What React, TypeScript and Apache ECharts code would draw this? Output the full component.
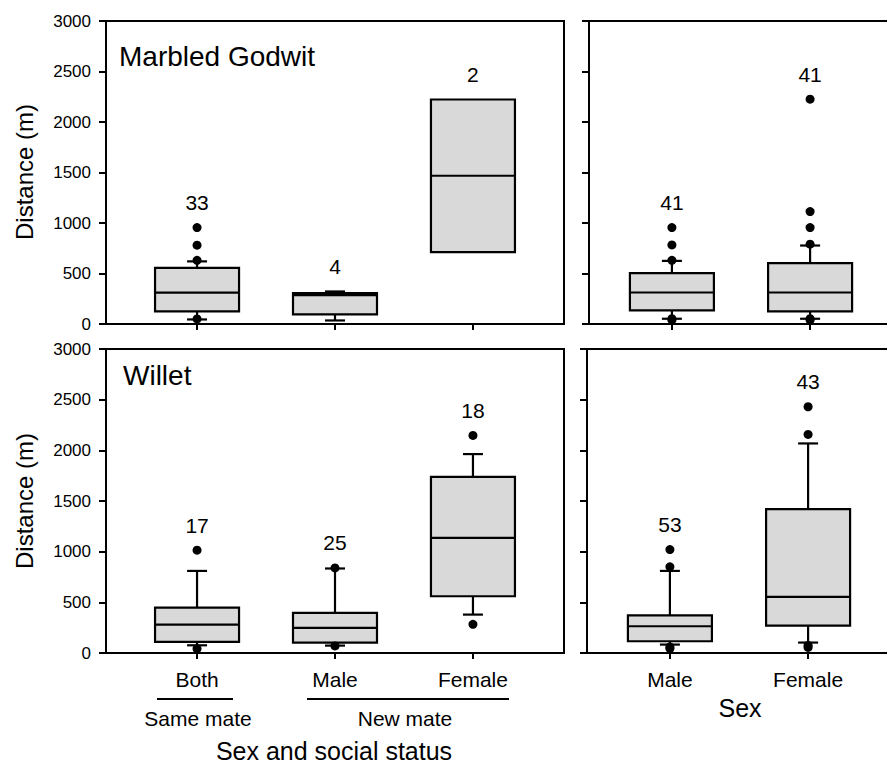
import React, { useEffect, useRef } from "react";
import * as echarts from "echarts";

// ---------- data ----------
const statusCategories = ["Both", "Male", "Female"];
const sexCategories = ["Male", "Female"];
const yTicks = [0, 500, 1000, 1500, 2000, 2500, 3000];

// Marbled Godwit by sex and social status
const godwitStatusMin = [45, 35, 711];
const godwitStatusQ1 = [125, 95, 711];
const godwitStatusMedian = [310, 285, 1468];
const godwitStatusQ3 = [555, 305, 2223];
const godwitStatusMax = [620, 322, 2223];
const godwitStatusN = [33, 4, 2];
const godwitStatusOutliers = [[955, 780, 630, 50], [], []];

// Marbled Godwit by sex
const godwitSexMin = [52, 52];
const godwitSexQ1 = [134, 125];
const godwitSexMedian = [312, 312];
const godwitSexQ3 = [504, 603];
const godwitSexMax = [625, 777];
const godwitSexN = [41, 41];
const godwitSexOutliers = [[955, 783, 630, 52, 40], [2226, 1113, 955, 790, 52, 40]];

// Willet by sex and social status
const willetStatusMin = [76, 73, 379];
const willetStatusQ1 = [109, 103, 560];
const willetStatusMedian = [281, 247, 1136];
const willetStatusQ3 = [448, 395, 1739];
const willetStatusMax = [810, 834, 1963];
const willetStatusN = [17, 25, 18];
const willetStatusOutliers = [[1015, 43], [840, 70], [2147, 283]];

// Willet by sex
const willetSexMin = [83, 103];
const willetSexQ1 = [116, 270];
const willetSexMedian = [264, 553];
const willetSexQ3 = [372, 1420];
const willetSexMax = [810, 2068];
const willetSexN = [53, 43];
const willetSexOutliers = [[1021, 850, 59, 45], [2430, 2157, 76, 55]];

// ---------- styling ----------
const FONT = "'Liberation Sans', Arial, Helvetica, sans-serif";
const BOX_FILL = "#d9d9d9";
const BOX_HALF = 42;
const CAP_HALF = 10;
const LABEL_GAP = 25;

type Panel = {
  cats: string[];
  min: number[];
  q1: number[];
  med: number[];
  q3: number[];
  max: number[];
  n: number[];
  outliers: number[][];
  grid: { left: number; top: number; width: number; height: number };
  xRange: [number, number];
  showX: boolean;
  showY: boolean;
};

const panels: Panel[] = [
  {
    cats: statusCategories, min: godwitStatusMin, q1: godwitStatusQ1, med: godwitStatusMedian,
    q3: godwitStatusQ3, max: godwitStatusMax, n: godwitStatusN, outliers: godwitStatusOutliers,
    grid: { left: 106, top: 21, width: 458, height: 303 }, xRange: [-0.66, 2.66], showX: false, showY: true,
  },
  {
    cats: sexCategories, min: godwitSexMin, q1: godwitSexQ1, med: godwitSexMedian,
    q3: godwitSexQ3, max: godwitSexMax, n: godwitSexN, outliers: godwitSexOutliers,
    grid: { left: 589, top: 21, width: 304, height: 303 }, xRange: [-0.6, 1.6], showX: false, showY: false,
  },
  {
    cats: statusCategories, min: willetStatusMin, q1: willetStatusQ1, med: willetStatusMedian,
    q3: willetStatusQ3, max: willetStatusMax, n: willetStatusN, outliers: willetStatusOutliers,
    grid: { left: 106, top: 349, width: 458, height: 304 }, xRange: [-0.66, 2.66], showX: true, showY: true,
  },
  {
    cats: sexCategories, min: willetSexMin, q1: willetSexQ1, med: willetSexMedian,
    q3: willetSexQ3, max: willetSexMax, n: willetSexN, outliers: willetSexOutliers,
    grid: { left: 587, top: 349, width: 304, height: 304 }, xRange: [-0.6, 1.6], showX: true, showY: false,
  },
];

function renderBox(_params: any, api: any) {
  const x = api.value(0);
  const mn = api.value(1);
  const q1 = api.value(2);
  const md = api.value(3);
  const q3 = api.value(4);
  const mx = api.value(5);
  const n = api.value(6);
  const top = api.value(7);
  const cx = api.coord([x, md])[0];
  const yMin = api.coord([x, mn])[1];
  const yQ1 = api.coord([x, q1])[1];
  const yMed = api.coord([x, md])[1];
  const yQ3 = api.coord([x, q3])[1];
  const yMax = api.coord([x, mx])[1];
  const yTop = api.coord([x, top])[1];
  const stroke = { stroke: "#000", lineWidth: 2.2, fill: "none" };
  const children: any[] = [];
  if (mx > q3) {
    children.push({ type: "line", shape: { x1: cx, y1: yQ3, x2: cx, y2: yMax }, style: stroke });
    children.push({ type: "line", shape: { x1: cx - CAP_HALF, y1: yMax, x2: cx + CAP_HALF, y2: yMax }, style: stroke });
  }
  if (mn < q1) {
    children.push({ type: "line", shape: { x1: cx, y1: yQ1, x2: cx, y2: yMin }, style: stroke });
    children.push({ type: "line", shape: { x1: cx - CAP_HALF, y1: yMin, x2: cx + CAP_HALF, y2: yMin }, style: stroke });
  }
  children.push({
    type: "rect",
    shape: { x: cx - BOX_HALF, y: yQ3, width: BOX_HALF * 2, height: yQ1 - yQ3 },
    style: { fill: BOX_FILL, stroke: "#000", lineWidth: 2.2 },
  });
  children.push({ type: "line", shape: { x1: cx - BOX_HALF, y1: yMed, x2: cx + BOX_HALF, y2: yMed }, style: stroke });
  children.push({
    type: "text",
    x: cx,
    y: yTop - LABEL_GAP,
    style: {
      text: String(n), fontSize: 21, fontFamily: FONT, fill: "#000",
      align: "center", verticalAlign: "middle", textAlign: "center", textVerticalAlign: "middle",
    },
  });
  return { type: "group", children };
}

function textEl(text: string, x: number, y: number, size: number, align = "center", rotation = 0) {
  return {
    type: "text",
    x, y, rotation,
    style: {
      text, fontSize: size, fontFamily: FONT, fill: "#000",
      align, verticalAlign: "middle", textAlign: align, textVerticalAlign: "middle",
    },
  };
}

function buildOption() {
  const grid: any[] = [];
  const xAxis: any[] = [];
  const yAxis: any[] = [];
  const series: any[] = [];
  panels.forEach((p, i) => {
    grid.push({
      ...p.grid, show: true, borderColor: "#000", borderWidth: 2, backgroundColor: "transparent",
      containLabel: false, outerBoundsMode: "none",
    });
    const idx = p.cats.map((_, k) => k);
    xAxis.push({
      type: "value", gridIndex: i, min: p.xRange[0], max: p.xRange[1],
      splitLine: { show: false },
      axisLine: { show: true, onZero: false, lineStyle: { color: "#000", width: 2 } },
      axisTick: { show: true, customValues: idx, length: 6, inside: false, lineStyle: { color: "#000", width: 2 } },
      axisLabel: {
        show: p.showX, customValues: idx, margin: 16, fontSize: 21, fontFamily: FONT, color: "#000",
        formatter: (v: number) => p.cats[Math.round(v)] ?? "",
      },
    });
    yAxis.push({
      type: "value", gridIndex: i, min: yTicks[0], max: yTicks[yTicks.length - 1], interval: 500,
      splitLine: { show: false },
      axisLine: { show: true, onZero: false, lineStyle: { color: "#000", width: 2 } },
      axisTick: { show: true, length: 7, inside: false, lineStyle: { color: "#000", width: 2 } },
      axisLabel: {
        show: p.showY, margin: 15, fontSize: 17, fontFamily: FONT, color: "#000",
        formatter: (v: number) => String(v),
      },
    });
    const boxData = p.cats.map((_, k) => [
      k, p.min[k], p.q1[k], p.med[k], p.q3[k], p.max[k], p.n[k],
      Math.max(p.max[k], ...p.outliers[k]),
    ]);
    series.push({
      type: "custom", xAxisIndex: i, yAxisIndex: i, renderItem: renderBox, data: boxData,
      encode: { x: 0, y: [1, 2, 3, 4, 5] }, z: 2, clip: false, silent: true,
    });
    const dots: number[][] = [];
    p.outliers.forEach((arr, k) => arr.forEach((v) => dots.push([k, v])));
    series.push({
      type: "scatter", xAxisIndex: i, yAxisIndex: i, data: dots, symbol: "circle", symbolSize: 9,
      itemStyle: { color: "#000", opacity: 1 }, z: 3, silent: true,
    });
  });

  const graphic: any[] = [
    textEl("Marbled Godwit", 119, 56, 28, "left"),
    textEl("Willet", 123, 375, 28, "left"),
    textEl("Distance (m)", 24, 172, 24, "center", Math.PI / 2),
    textEl("Distance (m)", 24, 501, 24, "center", Math.PI / 2),
    { type: "line", shape: { x1: 157, y1: 699, x2: 233, y2: 699 }, style: { stroke: "#000", lineWidth: 2 } },
    { type: "line", shape: { x1: 307, y1: 699, x2: 509, y2: 699 }, style: { stroke: "#000", lineWidth: 2 } },
    textEl("Same mate", 198, 718, 21),
    textEl("New mate", 405, 718, 21),
    textEl("Sex and social status", 334, 751, 25),
    textEl("Sex", 740, 708, 25),
  ];

  return { animation: false, backgroundColor: "#fff", grid, xAxis, yAxis, series, graphic };
}

export default function App() {
  const ref = useRef<HTMLDivElement>(null);
  useEffect(() => {
    if (!ref.current) return;
    const chart = echarts.init(ref.current, undefined, { renderer: "svg" });
    chart.setOption(buildOption() as any);
    return () => chart.dispose();
  }, []);
  return (
    <div
      ref={ref}
      style={{ position: "absolute", left: 0, top: 0, width: 887, height: 764, background: "#fff" }}
    />
  );
}
